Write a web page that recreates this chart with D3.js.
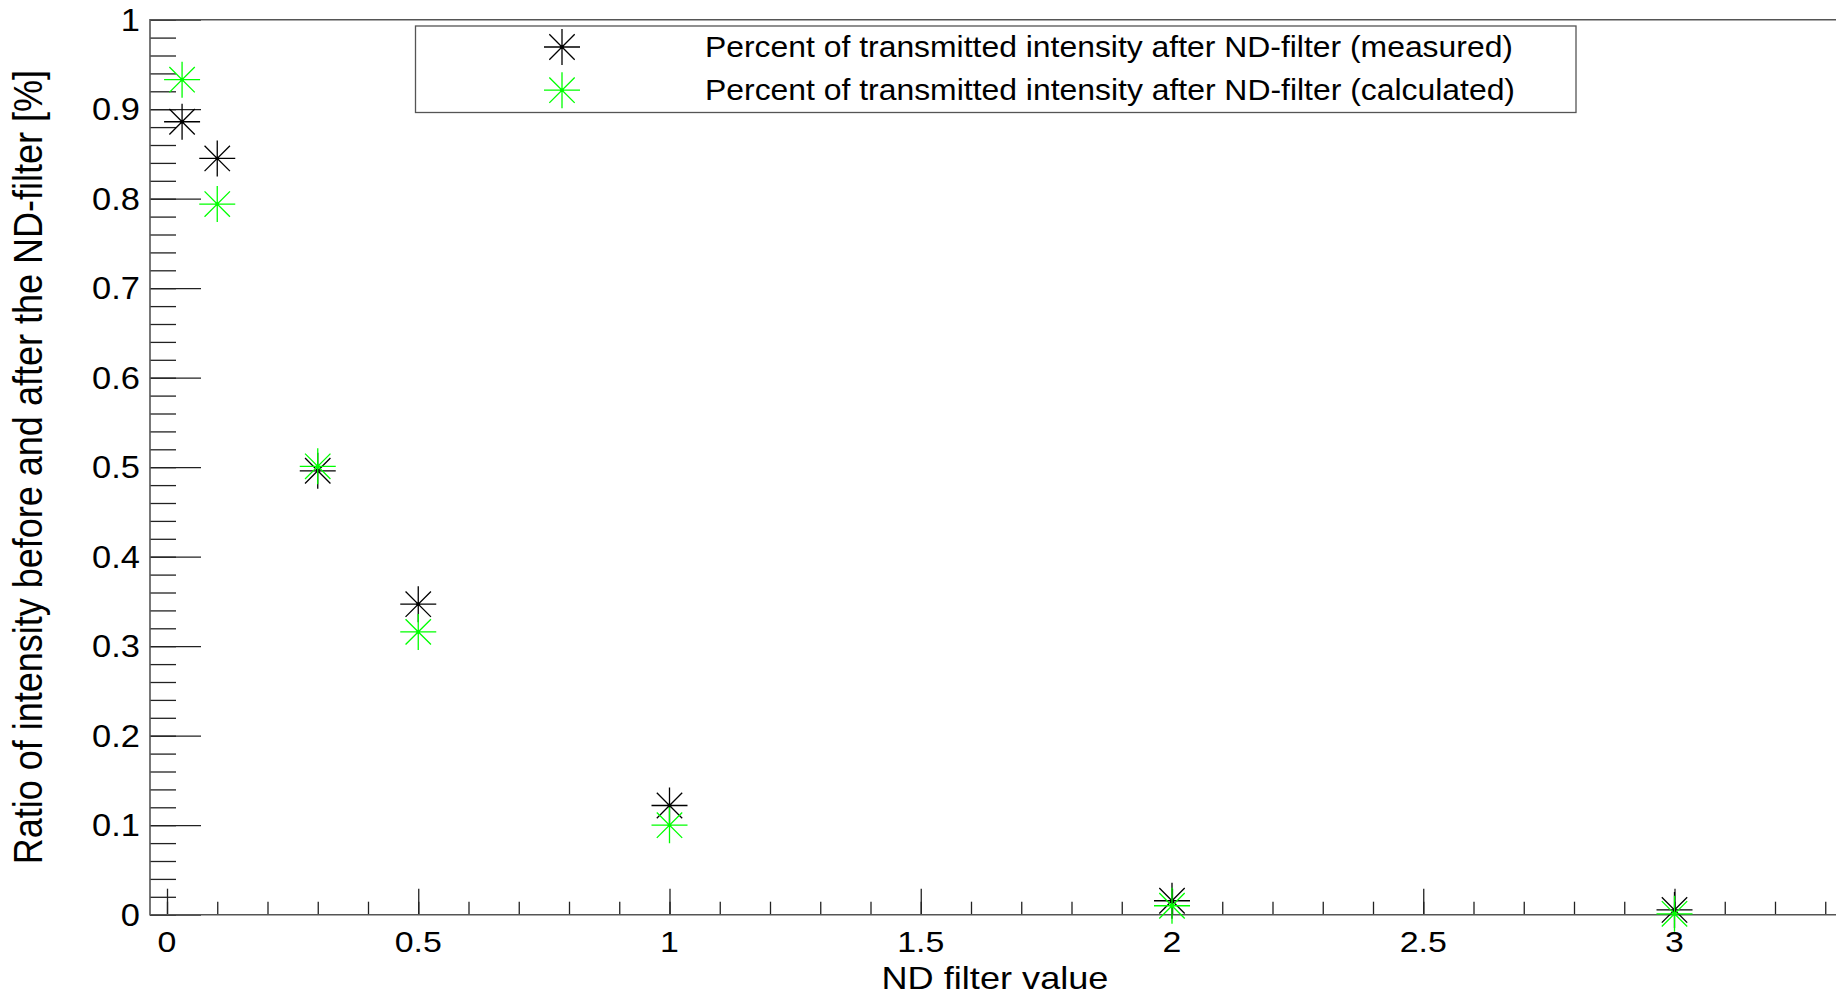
<!DOCTYPE html>
<html>
<head>
	<meta charset="utf-8">
	<title>ND filter transmission</title>
	<script src="https://cdn.jsdelivr.net/npm/d3@7"></script>
	<style type="text/css">
		body { margin: 0; background: #fff; }
		svg { display: block; }
		text { font-family: "Liberation Sans", Arial, sans-serif; fill: #000; }
		.tick line { stroke: #222; stroke-width: 1.3; }
		.domain { display: none; }
	</style>
</head>
<body>
	<script type="text/javascript">
		// data
		var ndValues   = [0.03, 0.1, 0.3, 0.5, 1, 2, 3];
		var measured   = [0.886, 0.845, 0.496, 0.347, 0.122, 0.0156, 0.0053];
		var calculated = [0.933, 0.794, 0.501, 0.316, 0.100, 0.010, 0.001];
		var xTickLabels = ["0", "0.5", "1", "1.5", "2", "2.5", "3"];
		var yTickLabels = ["0", "0.1", "0.2", "0.3", "0.4", "0.5", "0.6", "0.7", "0.8", "0.9", "1"];
		var seriesNames = ["Percent of transmitted intensity after ND-filter (measured)",
		                   "Percent of transmitted intensity after ND-filter (calculated)"];
		var seriesColors = ["#000000", "#00ff00"];

		var width = 1836;
		var height = 998;
		var sx = 1.13;   // text in the picture is a bit wider than tall

		var svg = d3.select("body").append("svg")
					.attr("width", width)
					.attr("height", height);

		// Set scales
		var xScale = d3.scaleLinear().domain([0, 3]).range([167, 1674.5]);
		var yScale = d3.scaleLinear().domain([0, 1]).range([914.7, 19.7]);
		var frameLeft = 150;
		var frameBottom = yScale(0);
		var frameTop = yScale(1);

		// Ticks (they point into the frame)
		var xMinor = d3.range(0, 36).map(function(i){ return i / 10; });
		var xMajor = xTickLabels.map(Number);
		var yMinor = d3.range(0, 51).map(function(i){ return i / 50; });
		var yMajor = yTickLabels.map(Number);

		svg.append("g")
		   .attr("transform", "translate(0," + frameBottom + ")")
		   .call(d3.axisTop(xScale).tickValues(xMinor).tickSize(13).tickFormat(""));
		svg.append("g")
		   .attr("transform", "translate(0," + frameBottom + ")")
		   .call(d3.axisTop(xScale).tickValues(xMajor).tickSize(26).tickFormat(""));
		svg.append("g")
		   .attr("transform", "translate(" + frameLeft + ",0)")
		   .call(d3.axisRight(yScale).tickValues(yMinor).tickSize(26).tickFormat(""));
		svg.append("g")
		   .attr("transform", "translate(" + frameLeft + ",0)")
		   .call(d3.axisRight(yScale).tickValues(yMajor).tickSize(51).tickFormat(""));

		// Frame (left, top, bottom; the right side runs off the picture)
		svg.append("path")
		   .attr("d", "M" + (width + 10) + "," + frameTop + "H" + frameLeft + "V" + frameBottom + "H" + (width + 10))
		   .attr("fill", "none")
		   .attr("stroke", "#555")
		   .attr("stroke-width", 1.6);

		function stretchedText(x, y, str, size, anchor, rot) {
			return svg.append("text")
			   .attr("transform", "translate(" + x + "," + y + ") scale(" + sx + ",1)" + (rot ? " rotate(" + rot + ")" : ""))
			   .attr("text-anchor", anchor)
			   .style("font-size", size + "px")
			   .text(str);
		}

		// Tick labels
		xTickLabels.forEach(function(t){
			stretchedText(xScale(+t), 952, t, 30, "middle");
		});
		yTickLabels.forEach(function(t){
			stretchedText(140, yScale(+t) + 10.8, t, 30.5, "end");
		});

		// Axis titles
		stretchedText(995, 989, "ND filter value", 32, "middle");
		stretchedText(42, yScale(0.5), "Ratio of intensity before and after the ND-filter [%]", 36, "middle", -90);

		// Star marker (8 lines)
		function star(g, color) {
			var r = 18, d = 12.7;
			g.append("path")
			 .attr("d", "M" + (-r) + ",0H" + r + "M0," + (-r) + "V" + r +
			            "M" + (-d) + "," + (-d) + "L" + d + "," + d +
			            "M" + (-d) + "," + d + "L" + d + "," + (-d))
			 .attr("stroke", color)
			 .attr("stroke-width", 1.3)
			 .attr("fill", "none");
			g.append("circle").attr("r", 1.8).attr("fill", color);
		}

		[measured, calculated].forEach(function(series, s){
			svg.append("g").selectAll("g")
			   .data(series)
			   .enter()
			   .append("g")
			     .attr("transform", function(d, i){
			       return "translate(" + xScale(ndValues[i]) + "," + yScale(d) + ")";
			     })
			     .each(function(){ star(d3.select(this), seriesColors[s]); });
		});

		// Legend
		svg.append("rect")
		   .attr("x", 415.5).attr("y", 26)
		   .attr("width", 1160.5).attr("height", 86.5)
		   .attr("fill", "#fff")
		   .attr("stroke", "#555")
		   .attr("stroke-width", 1.3);
		seriesNames.forEach(function(name, s){
			var cy = 47 + s * 43.2;
			star(svg.append("g").attr("transform", "translate(562," + cy + ")"), seriesColors[s]);
			stretchedText(705, cy + 9.5, name, 29.5, "start")
			   .attr("textLength", (s === 0 ? 808 : 810) / sx)
			   .attr("lengthAdjust", "spacingAndGlyphs");
		});
	</script>
</body>
</html>
